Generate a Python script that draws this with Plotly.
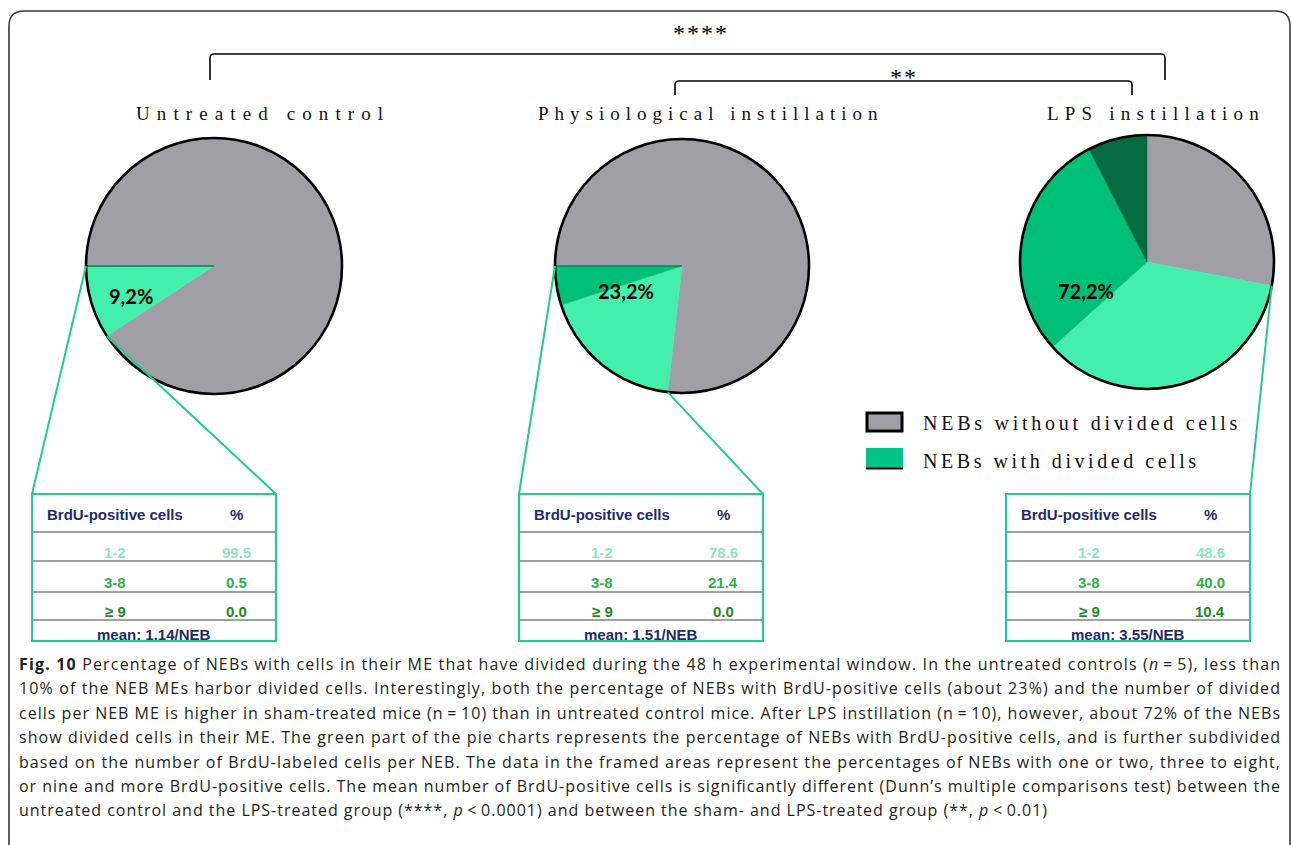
import json
import math
import plotly.graph_objects as go

# ---------------- data ----------------
groups = ["Untreated control", "Physiological instillation", "LPS instillation"]
pct_with_divided = [9.2, 23.2, 72.2]
pie_value_labels = ["9,2%", "23,2%", "72,2%"]
brdu_categories = ["1-2", "3-8", "≥ 9"]
pct_1_2 = [99.5, 78.6, 48.6]
pct_3_8 = [0.5, 21.4, 40.0]
pct_ge_9 = [0.0, 0.0, 10.4]
mean_per_neb = [1.14, 1.51, 3.55]
legend_labels = ["NEBs without divided cells", "NEBs with divided cells"]
sig_labels = ["****", "**"]
slice_names = ["NEBs without divided cells", "1-2 BrdU-positive cells",
               "3-8 BrdU-positive cells", "≥ 9 BrdU-positive cells"]
table_header = ["BrdU-positive cells", "%"]

caption_lines = [
    "<b>Fig. 10</b> Percentage of NEBs with cells in their ME that have divided during the 48 h experimental window. In the untreated controls (<i>n</i>\u2009=\u20095), less than",
    "10% of the NEB MEs harbor divided cells. Interestingly, both the percentage of NEBs with BrdU-positive cells (about 23%) and the number of divided",
    "cells per NEB ME is higher in sham-treated mice (n\u2009=\u200910) than in untreated control mice. After LPS instillation (n\u2009=\u200910), however, about 72% of the NEBs",
    "show divided cells in their ME. The green part of the pie charts represents the percentage of NEBs with BrdU-positive cells, and is further subdivided",
    "based on the number of BrdU-labeled cells per NEB. The data in the framed areas represent the percentages of NEBs with one or two, three to eight,",
    "or nine and more BrdU-positive cells. The mean number of BrdU-positive cells is significantly different (Dunn\u2019s multiple comparisons test) between the",
    "untreated control and the LPS-treated group (****, <i>p</i>\u2009<\u20090.0001) and between the sham- and LPS-treated group (**, <i>p</i>\u2009<\u20090.01)",
]

# ---------------- layout / style ----------------
W, H = 1292, 845
GRAY = "#A09FA5"
LIGHT = "#44EFAE"
MEDIUM = "#00BF78"
DARK = "#066A43"
FRAME_GREEN = "#22CC8E"
NAVY = "#1F2A6E"
ROW_COLORS = ["#8EE6C1", "#2DB24C", "#1C8A1C"]
slice_colors = [GRAY, LIGHT, MEDIUM, DARK]

pie_centers = [(214, 266), (682, 266), (1147, 262)]
pie_radius = [128, 127, 127]
pie_rotation = [270, 270, 0]
pct_text_pos = [(131, 296), (626, 291), (1086, 291)]
title_pos = [(263, 113), (710, 113), (1156, 113)]
title_spacing = [7.1, 6.0, 6.2]

table_left = [32, 519, 1006]
TABLE_W = 244
TABLE_TOP, TABLE_BOTTOM = 494, 641
header_y = 514
sep_y = [532, 561, 592, 620]
row_y = [552, 582, 611]
mean_y = 634
col1_dx, col2_dx, mean_dx = 83, 204, 122

SERIF = "Liberation Serif"
SANS = "Liberation Sans"

fig = go.Figure()

# invisible trace to create a pixel coordinate system
fig.add_trace(go.Scatter(x=[0, W], y=[0, H], mode="markers", marker=dict(opacity=0),
                         hoverinfo="skip", showlegend=False))

shapes = []
annotations = []

# pies (clockwise from the rotation angle: gray, 1-2, 3-8, >=9)
slice_values = []
for g in range(3):
    d = pct_with_divided[g]
    vals = [100 - d, d * pct_1_2[g] / 100, d * pct_3_8[g] / 100, d * pct_ge_9[g] / 100]
    slice_values.append(vals)
    cx, cy = pie_centers[g]
    r = pie_radius[g]
    fig.add_trace(go.Pie(
        labels=slice_names, values=vals, sort=False, direction="clockwise",
        rotation=pie_rotation[g], textinfo="none", showlegend=False,
        marker=dict(colors=slice_colors, line=dict(color=slice_colors, width=0.6)),
        domain=dict(x=[(cx - r) / W, (cx + r) / W], y=[1 - (cy + r) / H, 1 - (cy - r) / H]),
        name=groups[g],
    ))
    shapes.append(dict(type="circle", xref="x", yref="y", x0=cx - r, x1=cx + r,
                       y0=cy - r, y1=cy + r, line=dict(color="black", width=2.6), layer="above"))
    tx, ty = pct_text_pos[g]
    annotations.append(dict(x=tx, y=ty, text=pie_value_labels[g], showarrow=False,
                            font=dict(family="Lato", size=20, color="black", weight="bold")))
    px, py = title_pos[g]
    annotations.append(dict(x=px, y=py, showarrow=False,
                            text='<span style="letter-spacing:%.1fpx">%s</span>' % (title_spacing[g], groups[g]),
                            font=dict(family=SERIF, size=19, color="#111111")))


def boundary_point(g, cum_index):
    vals = slice_values[g]
    frac = sum(vals[:cum_index]) / sum(vals)
    ang = math.radians(pie_rotation[g] + 360 * frac)
    cx, cy = pie_centers[g]
    r = pie_radius[g]
    return cx + r * math.sin(ang), cy - r * math.cos(ang)


# connectors from the green part of each pie to its table
connectors = [(0, 4, "left"), (0, 1, "right"), (1, 4, "left"), (1, 1, "right"), (2, 1, "right")]
for g, ci, side in connectors:
    x0, y0 = boundary_point(g, ci)
    x1 = table_left[g] + (0 if side == "left" else TABLE_W)
    shapes.append(dict(type="line", xref="x", yref="y", x0=x0, y0=y0, x1=x1, y1=TABLE_TOP,
                       line=dict(color=FRAME_GREEN, width=2), layer="above"))

# tables
for g in range(3):
    L = table_left[g]
    shapes.append(dict(type="rect", xref="x", yref="y", x0=L, x1=L + TABLE_W, y0=TABLE_TOP,
                       y1=TABLE_BOTTOM, line=dict(color=FRAME_GREEN, width=2.2), layer="above"))
    for sy in sep_y:
        shapes.append(dict(type="line", xref="x", yref="y", x0=L + 1, x1=L + TABLE_W - 1,
                           y0=sy, y1=sy, line=dict(color="#808080", width=1.6), layer="above"))
    annotations.append(dict(x=L + col1_dx, y=header_y, text=table_header[0], showarrow=False,
                            font=dict(family=SANS, size=15, color=NAVY, weight="bold")))
    annotations.append(dict(x=L + col2_dx, y=header_y, text=table_header[1], showarrow=False,
                            font=dict(family=SANS, size=15, color=NAVY, weight="bold")))
    row_vals = [pct_1_2[g], pct_3_8[g], pct_ge_9[g]]
    for k in range(3):
        annotations.append(dict(x=L + col1_dx, y=row_y[k], text=brdu_categories[k], showarrow=False,
                                font=dict(family=SANS, size=15, color=ROW_COLORS[k], weight="bold")))
        annotations.append(dict(x=L + col2_dx, y=row_y[k], text=f"{row_vals[k]:.1f}", showarrow=False,
                                font=dict(family=SANS, size=15, color=ROW_COLORS[k], weight="bold")))
    annotations.append(dict(x=L + mean_dx, y=mean_y, text=f"mean: {mean_per_neb[g]:.2f}/NEB",
                            showarrow=False,
                            font=dict(family=SANS, size=15, color=NAVY, weight="bold")))

# significance brackets
shapes.append(dict(type="path", xref="x", yref="y",
                   path="M 210 80 L 210 58 Q 210 54 214 54 L 1161 54 Q 1165 54 1165 58 L 1165 80",
                   line=dict(color="black", width=1.6), layer="above"))
shapes.append(dict(type="path", xref="x", yref="y",
                   path="M 675 95 L 675 85 Q 675 81 679 81 L 1128 81 Q 1132 81 1132 85 L 1132 95",
                   line=dict(color="black", width=1.6), layer="above"))
annotations.append(dict(x=701, y=33, text='<span style="letter-spacing:2px">' + sig_labels[0] + '</span>',
                        showarrow=False, font=dict(family=SERIF, size=24, color="black")))
annotations.append(dict(x=904, y=77, text='<span style="letter-spacing:2px">' + sig_labels[1] + '</span>',
                        showarrow=False, font=dict(family=SERIF, size=24, color="black")))

# legend
shapes.append(dict(type="rect", xref="x", yref="y", x0=867, x1=902, y0=413, y1=431,
                   fillcolor=GRAY, line=dict(color="black", width=3), layer="above"))
shapes.append(dict(type="rect", xref="x", yref="y", x0=866, x1=903, y0=448, y1=468,
                   fillcolor="#00C587", line=dict(width=0), layer="above"))
shapes.append(dict(type="line", xref="x", yref="y", x0=866, x1=903, y0=468.5, y1=468.5,
                   line=dict(color="black", width=2), layer="above"))
legend_spacing = [3.75, 3.55]
for k, ly in enumerate([423, 461]):
    annotations.append(dict(x=921, y=ly, xanchor="left", showarrow=False,
                            text='<span style="letter-spacing:%.2fpx">%s</span>' % (legend_spacing[k], legend_labels[k]),
                            font=dict(family=SERIF, size=20, color="#111111")))

# outer rounded frame
shapes.append(dict(type="path", xref="x", yref="y",
                   path="M 9 860 L 9 26 Q 9 11 24 11 L 1275 11 Q 1290 11 1290 26 L 1290 860",
                   line=dict(color="#3a3a3a", width=1.6), layer="above"))

# caption
caption_targets = {}
cap_y0, cap_dy = 664, 24.4
cap_widths = [1261] * 6 + [1028]
for k, line in enumerate(caption_lines):
    caption_targets[str(len(annotations))] = cap_widths[k]
    annotations.append(dict(x=17, y=cap_y0 + k * cap_dy, xanchor="left", align="left",
                            showarrow=False, text=line,
                            font=dict(family="Open Sans", size=16, color="#231F20")))

fig.update_layout(
    width=W, height=H, autosize=False,
    margin=dict(l=0, r=0, t=0, b=0, pad=0),
    paper_bgcolor="white", plot_bgcolor="white",
    xaxis=dict(range=[0, W], visible=False, domain=[0, 1], fixedrange=True),
    yaxis=dict(range=[H, 0], visible=False, domain=[0, 1], fixedrange=True),
    shapes=shapes, annotations=annotations, showlegend=False,
)

post_js = """
var gd = document.getElementById('{plot_id}');
var targets = __TARGETS__;
gd.querySelectorAll('g.annotation').forEach(function(g){
  var idx = g.getAttribute('data-index');
  if (Object.prototype.hasOwnProperty.call(targets, idx)) {
    var t = g.querySelector('text.annotation-text');
    if (t) { t.setAttribute('textLength', targets[idx]); t.setAttribute('lengthAdjust', 'spacing'); }
  }
});
""".replace("__TARGETS__", json.dumps(caption_targets))

fig.write_html("out.html", post_script=post_js, config={"displayModeBar": False})
